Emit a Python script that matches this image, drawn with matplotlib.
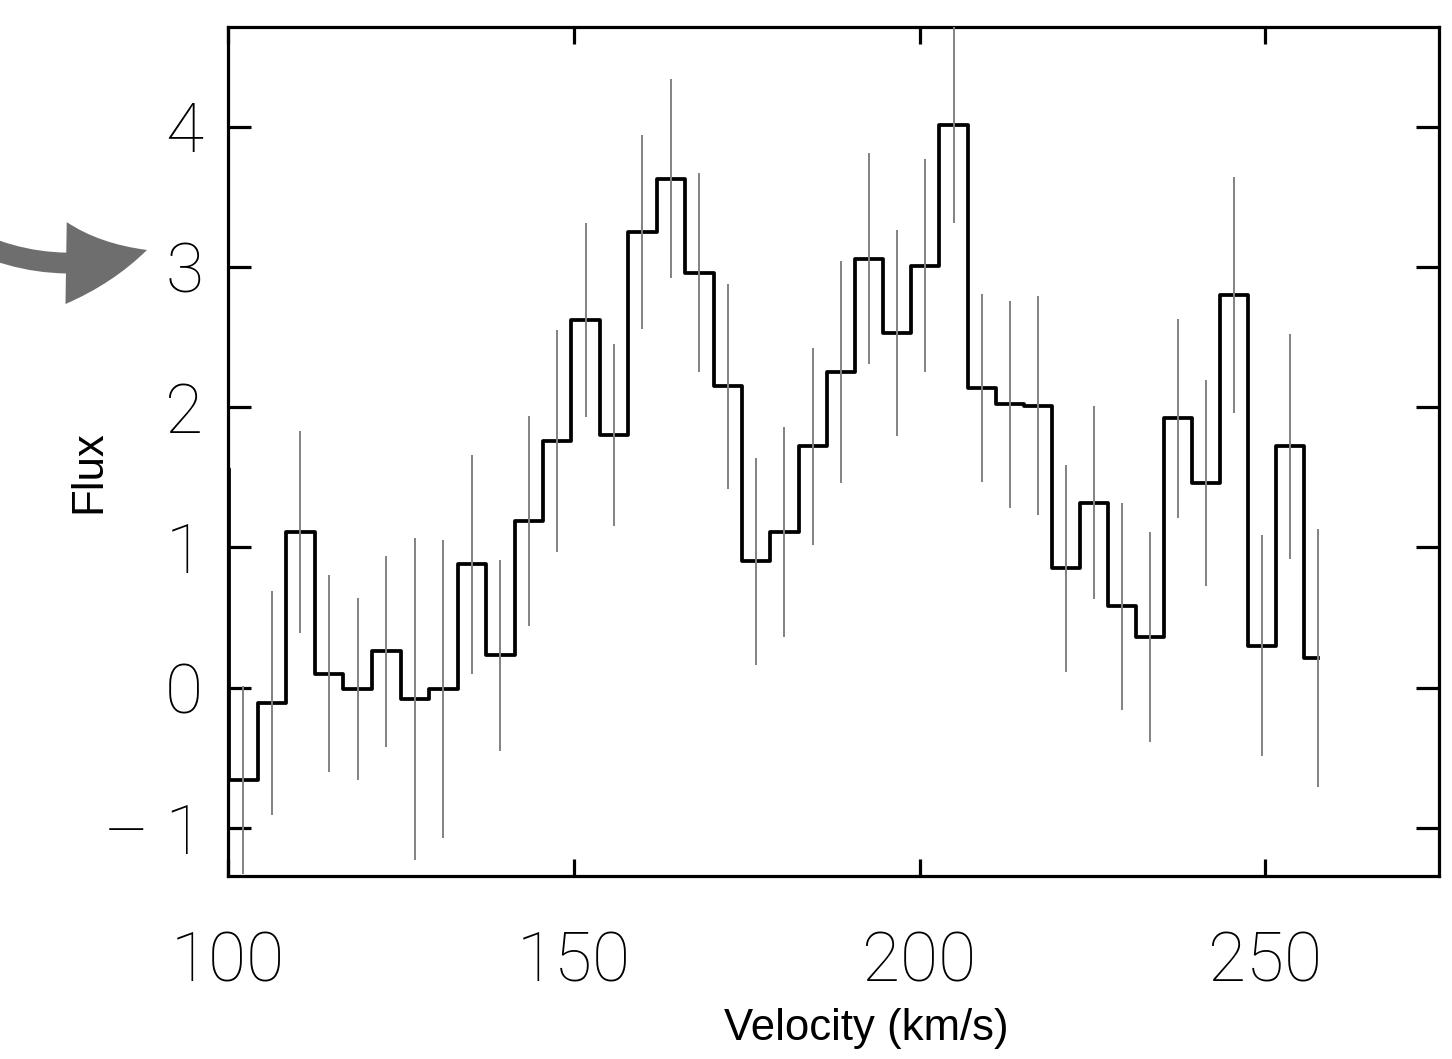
import matplotlib
matplotlib.use("Agg")
import matplotlib.pyplot as plt
from matplotlib.patches import FancyArrowPatch

# Channel velocities (km/s); first channel lies just left of the plotted range
velocity = [98.03, 102.17, 106.32, 110.42, 114.57, 118.72, 122.86, 127.01, 131.11,
            135.26, 139.35, 143.46, 147.55, 151.71, 155.80, 159.90, 164.05, 168.14,
            172.25, 176.35, 180.44, 184.55, 188.64, 192.69, 196.74, 200.80, 204.92,
            209.00, 213.05, 217.10, 221.20, 225.25, 229.30, 233.35, 237.40, 241.46,
            245.51, 249.56, 253.61, 257.66]
flux = [1.56, -0.66, -0.11, 1.11, 0.10, -0.01, 0.26, -0.08, -0.01,
        0.88, 0.23, 1.19, 1.76, 2.62, 1.80, 3.25, 3.63, 2.96,
        2.15, 0.90, 1.11, 1.72, 2.25, 3.06, 2.53, 3.01, 4.01,
        2.14, 2.02, 2.01, 0.85, 1.32, 0.58, 0.36, 1.92, 1.46,
        2.80, 0.30, 1.72, 0.21]
flux_err = [0.70, 0.67, 0.80, 0.72, 0.70, 0.65, 0.68, 1.15, 1.06,
            0.78, 0.68, 0.75, 0.79, 0.69, 0.65, 0.69, 0.71, 0.71,
            0.73, 0.735, 0.75, 0.70, 0.79, 0.75, 0.735, 0.76, 0.70,
            0.67, 0.74, 0.78, 0.74, 0.69, 0.74, 0.75, 0.71, 0.735,
            0.84, 0.79, 0.805, 0.92]

x_ticks = [100, 150, 200, 250]
x_ticklabels = ["100", "150", "200", "250"]
y_ticks = [-1, 0, 1, 2, 3, 4]
y_ticklabels = ["\u2013 1", "0", "1", "2", "3", "4"]

W, H = 1452, 1059
fig = plt.figure(figsize=(W / 100, H / 100), dpi=100)
ax = fig.add_axes([228.3 / W, 1 - 876 / H, (1439 - 228.3) / W, (876 - 26.7) / H])

ax.plot(velocity, flux, drawstyle="steps-mid", color="black", lw=2.7, zorder=2)
ax.errorbar(velocity, flux, yerr=flux_err, fmt="none", ecolor="#828282",
            elinewidth=1.4, capsize=0, zorder=3)

ax.set_xlim(100, 275.15)
ax.set_ylim(-1.343, 4.713)

tick_font = dict(family=["Roboto", "Lato", "DejaVu Sans"], weight=100, size=50)
ax.set_xticks(x_ticks)
ax.set_xticklabels(x_ticklabels, **tick_font)
ax.set_yticks(y_ticks)
ax.set_yticklabels(y_ticklabels, **tick_font)
ax.minorticks_off()
ax.tick_params(axis="both", direction="in", top=True, right=True, width=2.3, color="black")
ax.tick_params(axis="x", length=12.2, pad=39)
ax.tick_params(axis="y", length=16.6, pad=18)
for s in ax.spines.values():
    s.set_linewidth(2.3)

lab_font = dict(family=["Liberation Sans", "DejaVu Sans"], size=31.5)
fig.text(866 / W, 1 - 1040 / H, "Velocity (km/s)", ha="center", va="baseline", **lab_font)
fig.text(89 / W, 1 - 472 / H, "Flux", ha="center", va="center", rotation=90, **lab_font)

# curved grey arrow pointing at the y=3 label
arrow = FancyArrowPatch((-45 / W, 1 - 232 / H), (147 / W, 1 - 250 / H),
                        transform=fig.transFigure,
                        connectionstyle="arc3,rad=0.22",
                        arrowstyle="simple,head_length=59,head_width=59,tail_width=15",
                        mutation_scale=1, shrinkA=0, shrinkB=0,
                        color="#6e6e6e", lw=0, clip_on=False)
fig.patches.append(arrow)

fig.savefig("out.png", dpi=100)
